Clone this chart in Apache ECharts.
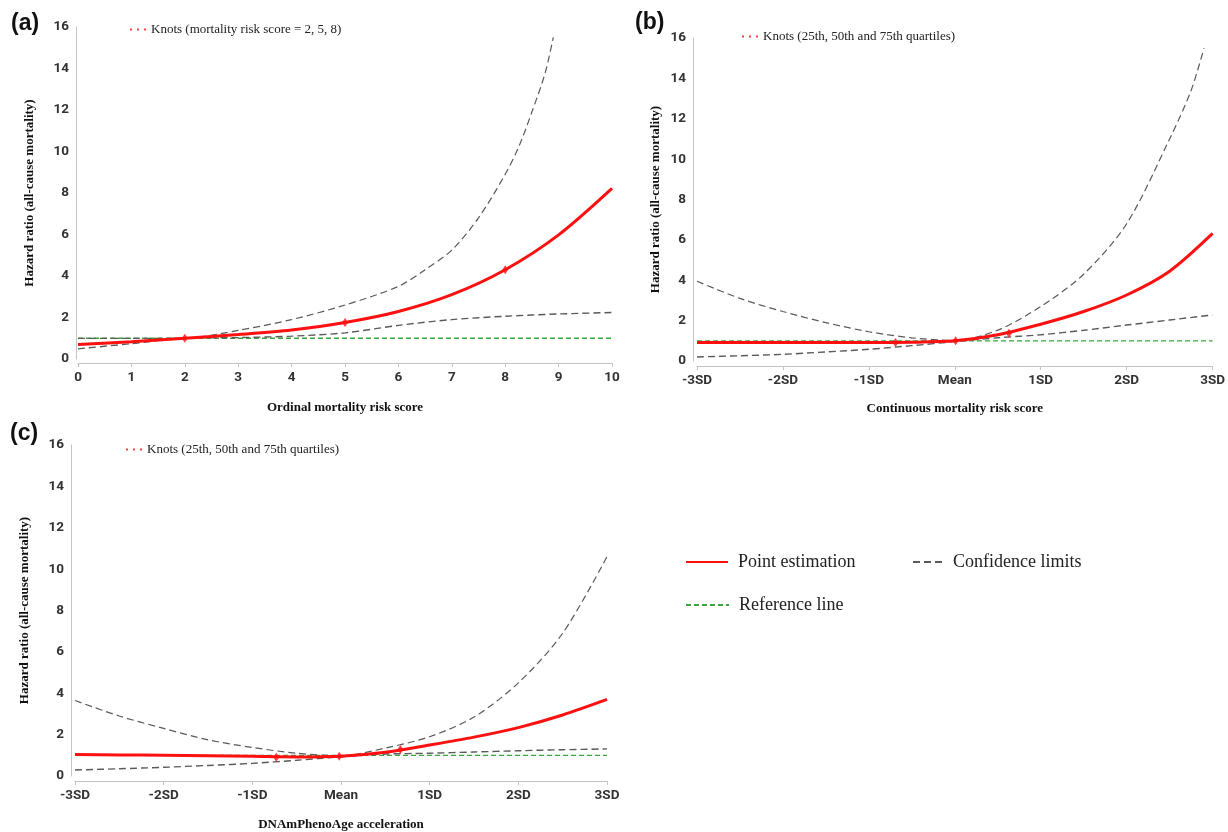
<!DOCTYPE html>
<html>
<head>
<meta charset="utf-8">
<script src="https://cdn.jsdelivr.net/npm/echarts@6/dist/echarts.min.js"></script>
<style>
  html, body { margin: 0; padding: 0; background: #fff; }
  #main { width: 1228px; height: 832px; }
</style>
</head>
<body>
<div id="main"></div>
<script>
// panel (a): ordinal score
const aX = [0, 1, 2, 3, 4, 5, 6, 7, 8, 9, 10];
const aPoint = [0.70, 0.83, 1.0, 1.18, 1.40, 1.76, 2.29, 3.1, 4.3, 5.98, 8.22];
const aLower = [0.49, 0.74, 1.0, 1.03, 1.10, 1.26, 1.62, 1.9, 2.06, 2.17, 2.24];
const aUpperX = [0, 1, 2, 3, 4, 5, 6, 6.5, 7, 7.5, 8, 8.25, 8.5, 8.75, 8.9];
const aUpper = [1.0, 0.99, 1.0, 1.38, 1.9, 2.6, 3.5, 4.3, 5.25, 6.8, 8.9, 10.2, 11.9, 13.8, 15.5];
const aKnotX = [2, 5, 8];
const aKnotY = [1.0, 1.76, 4.3];

// panels (b) and (c): in SD units
const sdX = [-3, -2.5, -2, -1.5, -1, -0.5, 0, 0.5, 1, 1.5, 2, 2.5, 3];
const sdLabels = ['-3SD', '-2SD', '-1SD', 'Mean', '1SD', '2SD', '3SD'];

const bPoint = [0.92, 0.92, 0.92, 0.92, 0.92, 0.93, 1.0, 1.3, 1.82, 2.45, 3.27, 4.45, 6.32];
const bLower = [0.2, 0.26, 0.33, 0.45, 0.58, 0.76, 0.96, 1.15, 1.3, 1.52, 1.78, 2.03, 2.28];
const bUpperX = [-3, -2.5, -2, -1.5, -1, -0.5, 0, 0.5, 1, 1.5, 2, 2.5, 2.75, 2.9];
const bUpper = [3.95, 3.1, 2.45, 1.9, 1.45, 1.15, 1.02, 1.53, 2.7, 4.3, 6.8, 11.0, 13.4, 15.5];
const bKnotX = [-0.69, 0.01, 0.63];
const bKnotY = [0.92, 1.0, 1.37];

const cPoint = [1.04, 1.02, 1.0, 0.98, 0.95, 0.92, 0.96, 1.15, 1.5, 1.88, 2.34, 2.95, 3.7];
const cLower = [0.29, 0.35, 0.42, 0.51, 0.61, 0.76, 0.93, 1.06, 1.1, 1.16, 1.22, 1.27, 1.31];
const cUpper = [3.65, 2.9, 2.3, 1.75, 1.38, 1.1, 0.98, 1.35, 1.9, 2.85, 4.5, 6.9, 10.6];
const cKnotX = [-0.73, -0.02, 0.67];
const cKnotY = [0.91, 0.96, 1.28];

const refHR = 1;
const knotsA = 'Knots (mortality risk score = 2, 5, 8)';
const knotsBC = 'Knots (25th, 50th and 75th quartiles)';

function zip(xs, ys) {
  return xs.map((x, i) => [x, ys[i]]);
}

const serif = '"Liberation Serif", "Times New Roman", serif';
const sans = '"Liberation Sans Narrow", Roboto, sans-serif';
const RED = '#ff1010';
const GREY = '#5a5a5a';
const GREEN = '#3aa63a';
const dots = 'path://M0,0h2v2h-2z M7,0h2v2h-2z M14,0h2v2h-2z';

function xAxisFor(grid, sd, xName, offset, gap) {
  return {
    type: 'value', gridIndex: grid,
    min: sd ? -3 : 0, max: sd ? 3 : 10, interval: 1,
    offset: offset,
    name: xName, nameLocation: 'middle', nameGap: gap,
    nameTextStyle: { fontFamily: serif, fontWeight: 'bold', fontSize: 13, color: '#111' },
    axisLine: { onZero: false, lineStyle: { color: '#c4c4c4' } },
    axisTick: { length: 4, lineStyle: { color: '#c4c4c4' } },
    axisLabel: {
      margin: 8, fontFamily: sans, fontWeight: 'bold', fontSize: 13.5, color: '#333',
      formatter: v => sd ? sdLabels[Math.round(v) + 3] : String(v)
    },
    splitLine: { show: false }
  };
}

function yAxisFor(grid, offset, gap) {
  return {
    type: 'value', gridIndex: grid, min: 0, max: 16, interval: 2,
    offset: offset,
    name: 'Hazard ratio (all-cause mortality)', nameLocation: 'middle', nameGap: gap,
    nameTextStyle: { fontFamily: serif, fontWeight: 'bold', fontSize: 13, color: '#111' },
    axisLine: { show: true, onZero: false, lineStyle: { color: '#c4c4c4' } },
    axisTick: { show: false },
    axisLabel: { margin: 7, fontFamily: sans, fontWeight: 'bold', fontSize: 13.5, color: '#333' },
    splitLine: { show: false }
  };
}

function panelSeries(idx, point, lower, upper, xMin, xMax, knots, knotName) {
  const base = {
    xAxisIndex: idx, yAxisIndex: idx, type: 'line', showSymbol: false, symbol: 'none',
    silent: true, smooth: 0.3
  };
  return [
    Object.assign({}, base, {
      name: 'Reference line', data: [[xMin, refHR], [xMax, refHR]], z: 2, smooth: false,
      lineStyle: { color: GREEN, width: 1.3, type: [5, 3] }, itemStyle: { color: GREEN }
    }),
    Object.assign({}, base, {
      name: 'Confidence limits', data: upper, z: 3,
      lineStyle: { color: GREY, width: 1.2, type: [7, 4] }, itemStyle: { color: GREY }
    }),
    Object.assign({}, base, {
      name: 'Confidence limits', data: lower, z: 3,
      lineStyle: { color: GREY, width: 1.4, type: [7, 4] }, itemStyle: { color: GREY }
    }),
    Object.assign({}, base, {
      name: 'Point estimation', data: point, z: 4,
      lineStyle: { color: RED, width: 3 }, itemStyle: { color: RED }
    }),
    {
      name: knotName, type: 'scatter', xAxisIndex: idx, yAxisIndex: idx, z: 5, silent: true,
      data: knots, symbol: 'diamond', symbolSize: [6, 9], itemStyle: { color: RED }
    }
  ];
}

function knotLegend(name, left, top) {
  return {
    data: [{ name: name, icon: dots }], left: left, top: top, padding: 0,
    itemWidth: 16, itemHeight: 2, selectedMode: false,
    textStyle: { fontFamily: serif, fontSize: 13, color: '#222' }
  };
}

function keyLegend(name, left, top, w) {
  return {
    data: [name], left: left, top: top, padding: 0, itemWidth: w, itemHeight: 14,
    selectedMode: false, lineStyle: { width: 2 }, itemStyle: { opacity: 0 },
    textStyle: { fontFamily: serif, fontSize: 18, color: '#222', padding: [0, 0, 0, 5] }
  };
}

const panelTitle = (t, left, top) => ({
  text: '(' + t + ')', left: left, top: top, padding: 0,
  textStyle: { fontFamily: '"Liberation Sans", Arial, sans-serif', fontSize: 23, fontWeight: 'bold', color: '#111' }
});

const chart = echarts.init(document.getElementById('main'), null, { renderer: 'canvas' });

const option = {
  backgroundColor: '#ffffff',
  animation: false,
  title: [panelTitle('a', 11, 12), panelTitle('b', 635, 11), panelTitle('c', 10, 422)],
  grid: [
    { left: 78, top: 27, width: 534, height: 332 },
    { left: 697, top: 38, width: 517, height: 323 },
    { left: 75, top: 445, width: 532, height: 333 }
  ],
  xAxis: [
    xAxisFor(0, false, 'Ordinal mortality risk score', 4, 38),
    xAxisFor(1, true, 'Continuous mortality risk score', 5, 36),
    xAxisFor(2, true, 'DNAmPhenoAge acceleration', 5, 37)
  ],
  yAxis: [yAxisFor(0, 2, 40), yAxisFor(1, 4, 31), yAxisFor(2, 4, 40)],
  legend: [
    knotLegend(knotsA, 130, 23),
    knotLegend(knotsBC, 742, 30),
    knotLegend(knotsBC, 126, 443),
    keyLegend('Point estimation', 685, 553, 42),
    keyLegend('Confidence limits', 912, 553, 30),
    keyLegend('Reference line', 685, 596, 43)
  ],
  series: [].concat(
    panelSeries(0, zip(aX, aPoint), zip(aX, aLower), zip(aUpperX, aUpper), 0, 10, zip(aKnotX, aKnotY), knotsA),
    panelSeries(1, zip(sdX, bPoint), zip(sdX, bLower), zip(bUpperX, bUpper), -3, 3, zip(bKnotX, bKnotY), knotsBC),
    panelSeries(2, zip(sdX, cPoint), zip(sdX, cLower), zip(sdX, cUpper), -3, 3, zip(cKnotX, cKnotY), knotsBC)
  )
};

chart.setOption(option);
</script>
</body>
</html>
